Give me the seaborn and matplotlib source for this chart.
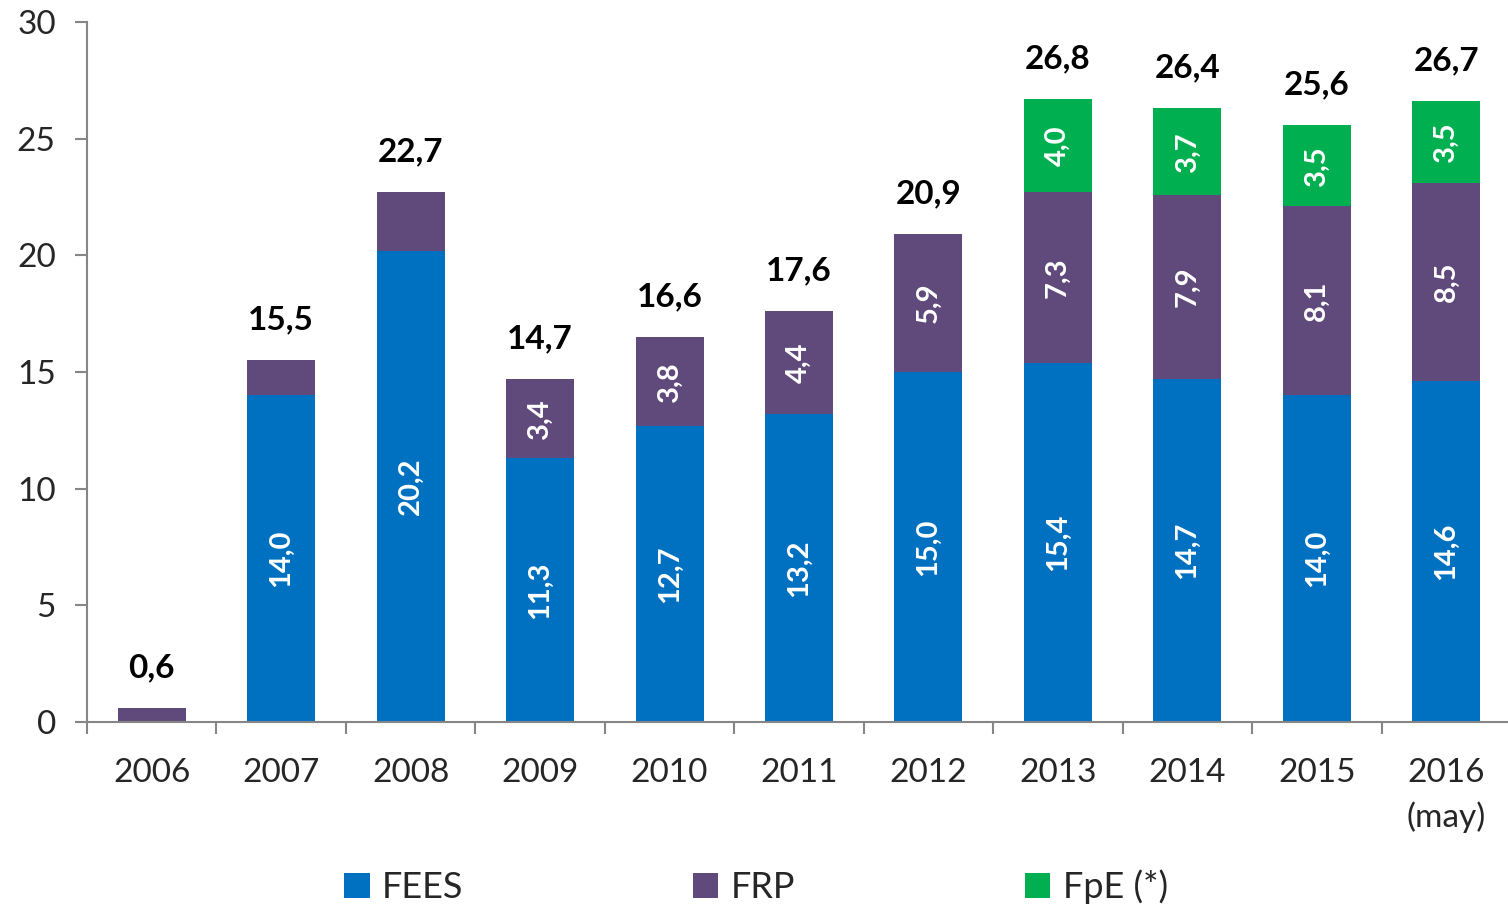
import matplotlib
matplotlib.use("Agg")
import matplotlib.pyplot as plt
import seaborn as sns
import numpy as np
import pandas as pd
from matplotlib.patches import Patch
from matplotlib.ticker import FixedLocator

years = ["2006", "2007", "2008", "2009", "2010", "2011", "2012", "2013", "2014", "2015", "2016\n(may)"]
fees = [0.0, 14.0, 20.2, 11.3, 12.7, 13.2, 15.0, 15.4, 14.7, 14.0, 14.6]
frp = [0.6, 1.5, 2.5, 3.4, 3.8, 4.4, 5.9, 7.3, 7.9, 8.1, 8.5]
fpe = [0.0, 0.0, 0.0, 0.0, 0.0, 0.0, 0.0, 4.0, 3.7, 3.5, 3.5]
totals = [0.6, 15.5, 22.7, 14.7, 16.6, 17.6, 20.9, 26.8, 26.4, 25.6, 26.7]

series_names = ["FEES", "FRP", "FpE (*)"]
colors = ["#0070C0", "#604A7B", "#00B050"]

sns.set_style("white")
plt.rcParams["font.family"] = ["Lato", "DejaVu Sans"]

fig = plt.figure(figsize=(15.08, 9.09), dpi=100)
ax = fig.add_axes([87 / 1508, 1 - 722 / 909, 1 - 87 / 1508 + 0.002, (722 - 22) / 909])

df = pd.DataFrame({"year": years, "FEES": fees, "FRP": frp, "FpE": fpe})
df["c1"] = df["FEES"]
df["c2"] = df["c1"] + df["FRP"]
df["c3"] = df["c2"] + df["FpE"]

bar_w = 0.525
# stacked bars drawn as cumulative layers, tallest first
for col, color in zip(["c3", "c2", "c1"], colors[::-1]):
    sns.barplot(data=df, x="year", y=col, color=color, width=bar_w,
                saturation=1, ax=ax, order=years, linewidth=0)

ax.set_xlim(-0.5, len(years) - 0.5)
ax.set_ylim(0, 30)
ax.set_yticks([0, 5, 10, 15, 20, 25, 30])
ax.set_xlabel("")
ax.set_ylabel("")

def fmt(v):
    return f"{v:.1f}".replace(".", ",")

# segment labels inside the bars
for i in range(len(years)):
    base = 0.0
    for vals in (fees, frp, fpe):
        v = vals[i]
        if v >= 3:
            ax.text(i, base + v / 2, fmt(v), rotation=90, ha="center", va="center",
                    color="white", fontsize=21, fontweight="bold")
        base += v
    top = fees[i] + frp[i] + fpe[i]
    ax.annotate(fmt(totals[i]), xy=(i, top), xytext=(0, 29), textcoords="offset points",
                ha="center", va="center", fontsize=24, fontweight="bold", color="black")

axis_gray = "#868686"
for side in ["top", "right"]:
    ax.spines[side].set_visible(False)
for side in ["left", "bottom"]:
    ax.spines[side].set_color(axis_gray)
    ax.spines[side].set_linewidth(1.5)

ax.tick_params(axis="y", which="major", direction="out", length=8.5, width=1.5,
               color=axis_gray, labelsize=24, pad=14, left=True)
ax.tick_params(axis="x", which="major", length=0, labelsize=24, pad=26)
for lbl in ax.get_xticklabels():
    lbl.set_linespacing(1.5)
ax.xaxis.set_minor_locator(FixedLocator(np.arange(-0.5, len(years) - 0.5, 1.0)))
ax.tick_params(axis="x", which="minor", direction="out", length=8.5, width=1.5,
               color=axis_gray, bottom=True)
ax.grid(False)

handles = [Patch(facecolor=c, edgecolor="none") for c in colors]
fig.legend(handles, series_names, loc="center", bbox_to_anchor=(756 / 1508, 1 - 887 / 909),
           ncol=3, frameon=False, fontsize=26, handlelength=0.7, handleheight=0.7,
           handletextpad=0.35, columnspacing=6.35)

fig.savefig("out.png", dpi=100)
